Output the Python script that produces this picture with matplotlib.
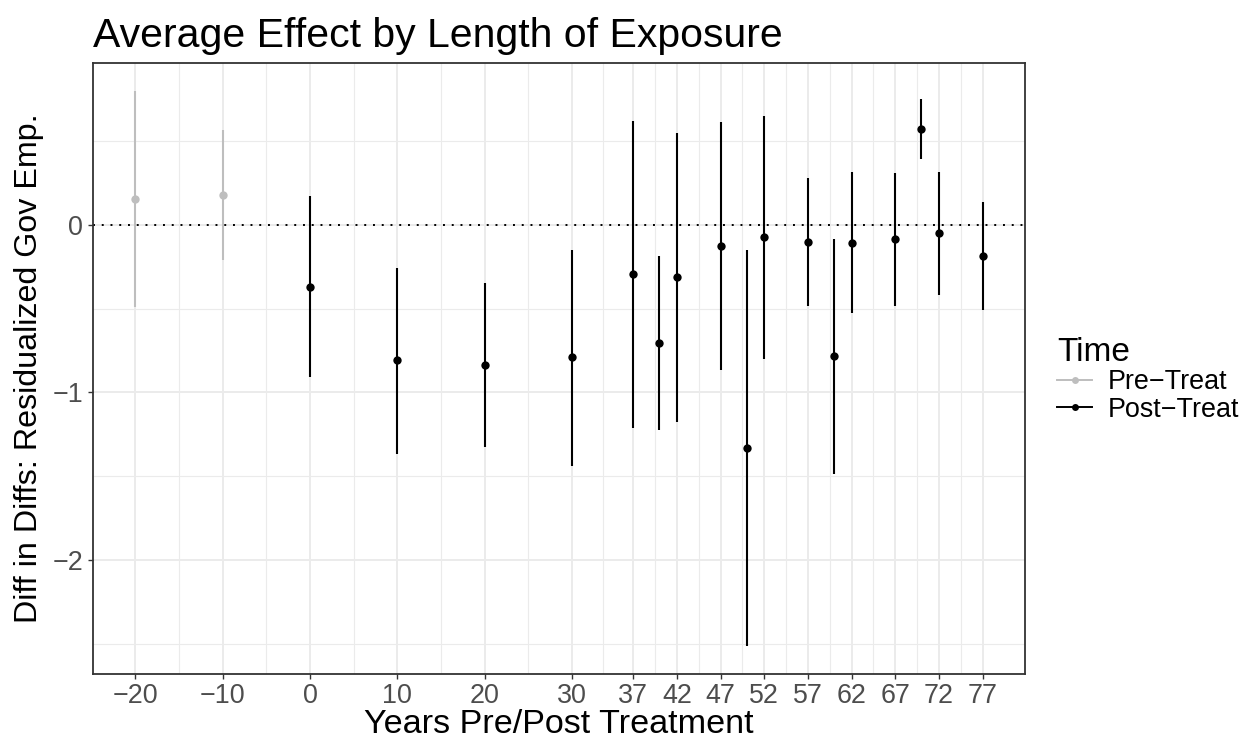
import matplotlib
matplotlib.use('Agg')
import matplotlib.pyplot as plt
from matplotlib.lines import Line2D
import numpy as np

plt.rcParams['font.family'] = ['Liberation Sans', 'DejaVu Sans']

# ---- data ----
years = [-20, -10, 0, 10, 20, 30, 37, 40, 42, 47, 50, 52, 57, 60, 62, 67, 70, 72, 77]
estimate = [0.155, 0.177, -0.371, -0.809, -0.835, -0.791, -0.296, -0.704, -0.312, -0.128,
            -1.329, -0.073, -0.102, -0.785, -0.106, -0.087, 0.572, -0.050, -0.187]
ci_low = [-0.493, -0.209, -0.907, -1.365, -1.327, -1.438, -1.213, -1.225, -1.175, -0.868,
          -2.513, -0.799, -0.482, -1.489, -0.527, -0.482, 0.392, -0.418, -0.508]
ci_high = [0.799, 0.564, 0.171, -0.259, -0.345, -0.149, 0.619, -0.184, 0.548, 0.610,
           -0.149, 0.648, 0.277, -0.083, 0.312, 0.307, 0.749, 0.317, 0.135]
period = ['Pre-Treat'] * 2 + ['Post-Treat'] * 17
x_ticks = [-20, -10, 0, 10, 20, 30, 37, 42, 47, 52, 57, 62, 67, 72, 77]
y_ticks = [-2, -1, 0]
groups = ['Pre-Treat', 'Post-Treat']
group_labels = ['Pre\u2212Treat', 'Post\u2212Treat']
group_colors = {'Pre-Treat': '#BEBEBE', 'Post-Treat': '#000000'}

W, H = 1243, 740
fig = plt.figure(figsize=(W / 100, H / 100), dpi=100)
L, R, T, B = 93, 1025, 63, 674
ax = fig.add_axes([L / W, (H - B) / H, (R - L) / W, (B - T) / H])

yrs = np.array(years, float)
est = np.array(estimate)
lo = np.array(ci_low)
hi = np.array(ci_high)
per = np.array(period)

# limits with ggplot 5% expansion
xr = yrs.max() - yrs.min()
ax.set_xlim(yrs.min() - 0.05 * xr, yrs.max() + 0.05 * xr)
ymin, ymax = min(lo.min(), est.min()), max(hi.max(), est.max())
yr = ymax - ymin
ax.set_ylim(ymin - 0.05 * yr, ymax + 0.05 * yr)

# grid
xt = np.array(x_ticks, float)
x_minor = (xt[:-1] + xt[1:]) / 2
yt = np.array(y_ticks, float)
y_minor = np.concatenate([[yt[0] - 0.5], (yt[:-1] + yt[1:]) / 2, [yt[-1] + 0.5]])
ax.set_xticks(xt)
ax.set_xticks(x_minor, minor=True)
ax.set_yticks(yt)
ax.set_yticks(y_minor, minor=True)
ax.grid(True, which='major', color='#EBEBEB', linewidth=1.4, zorder=0)
ax.grid(True, which='minor', color='#EBEBEB', linewidth=0.8, zorder=0)
ax.set_axisbelow(True)

ax.axhline(0, color='black', linestyle=(0, (1, 3.5)), linewidth=1.4, zorder=1)

for g in groups:
    m = per == g
    ax.vlines(yrs[m], lo[m], hi[m], color=group_colors[g], linewidth=1.5, zorder=2)
    ax.plot(yrs[m], est[m], 'o', color=group_colors[g], markersize=6,
            markeredgewidth=0, zorder=3)

ax.set_xticklabels([str(v).replace('-', '\u2212') for v in x_ticks])
ax.set_yticklabels([str(v).replace('-', '\u2212') for v in y_ticks])
ax.tick_params(axis='both', which='major', labelsize=19.4, labelcolor='#4D4D4D',
               color='#333333', length=3.6, width=1.0)
ax.tick_params(axis='x', which='major', pad=3)
ax.tick_params(axis='y', which='major', pad=3.5)
ax.tick_params(axis='both', which='minor', length=0)
for s in ax.spines.values():
    s.set_color('#333333')
    s.set_linewidth(1.3)

ax.set_xlabel('Years Pre/Post Treatment', fontsize=24.6, labelpad=0)
ax.set_ylabel('Diff in Diffs: Residualized Gov Emp.', fontsize=23.2, labelpad=6)
fig.text(L / W, 1 - 47 / H, 'Average Effect by Length of Exposure', fontsize=29.5,
         ha='left', va='baseline')

handles = [Line2D([0], [0], color=group_colors[g], marker='o', markersize=5,
                  markeredgewidth=0, linewidth=1.4) for g in groups]
leg = fig.legend(handles, group_labels, title='Time', loc='upper left',
                 bbox_to_anchor=(1057 / W, 1 - 337 / H), frameon=False,
                 fontsize=19.4, title_fontsize=24, handlelength=1.3,
                 handletextpad=0.6, labelspacing=0.05, borderaxespad=0,
                 borderpad=0)
leg._legend_box.align = 'left'

fig.savefig('out.png', dpi=100)
